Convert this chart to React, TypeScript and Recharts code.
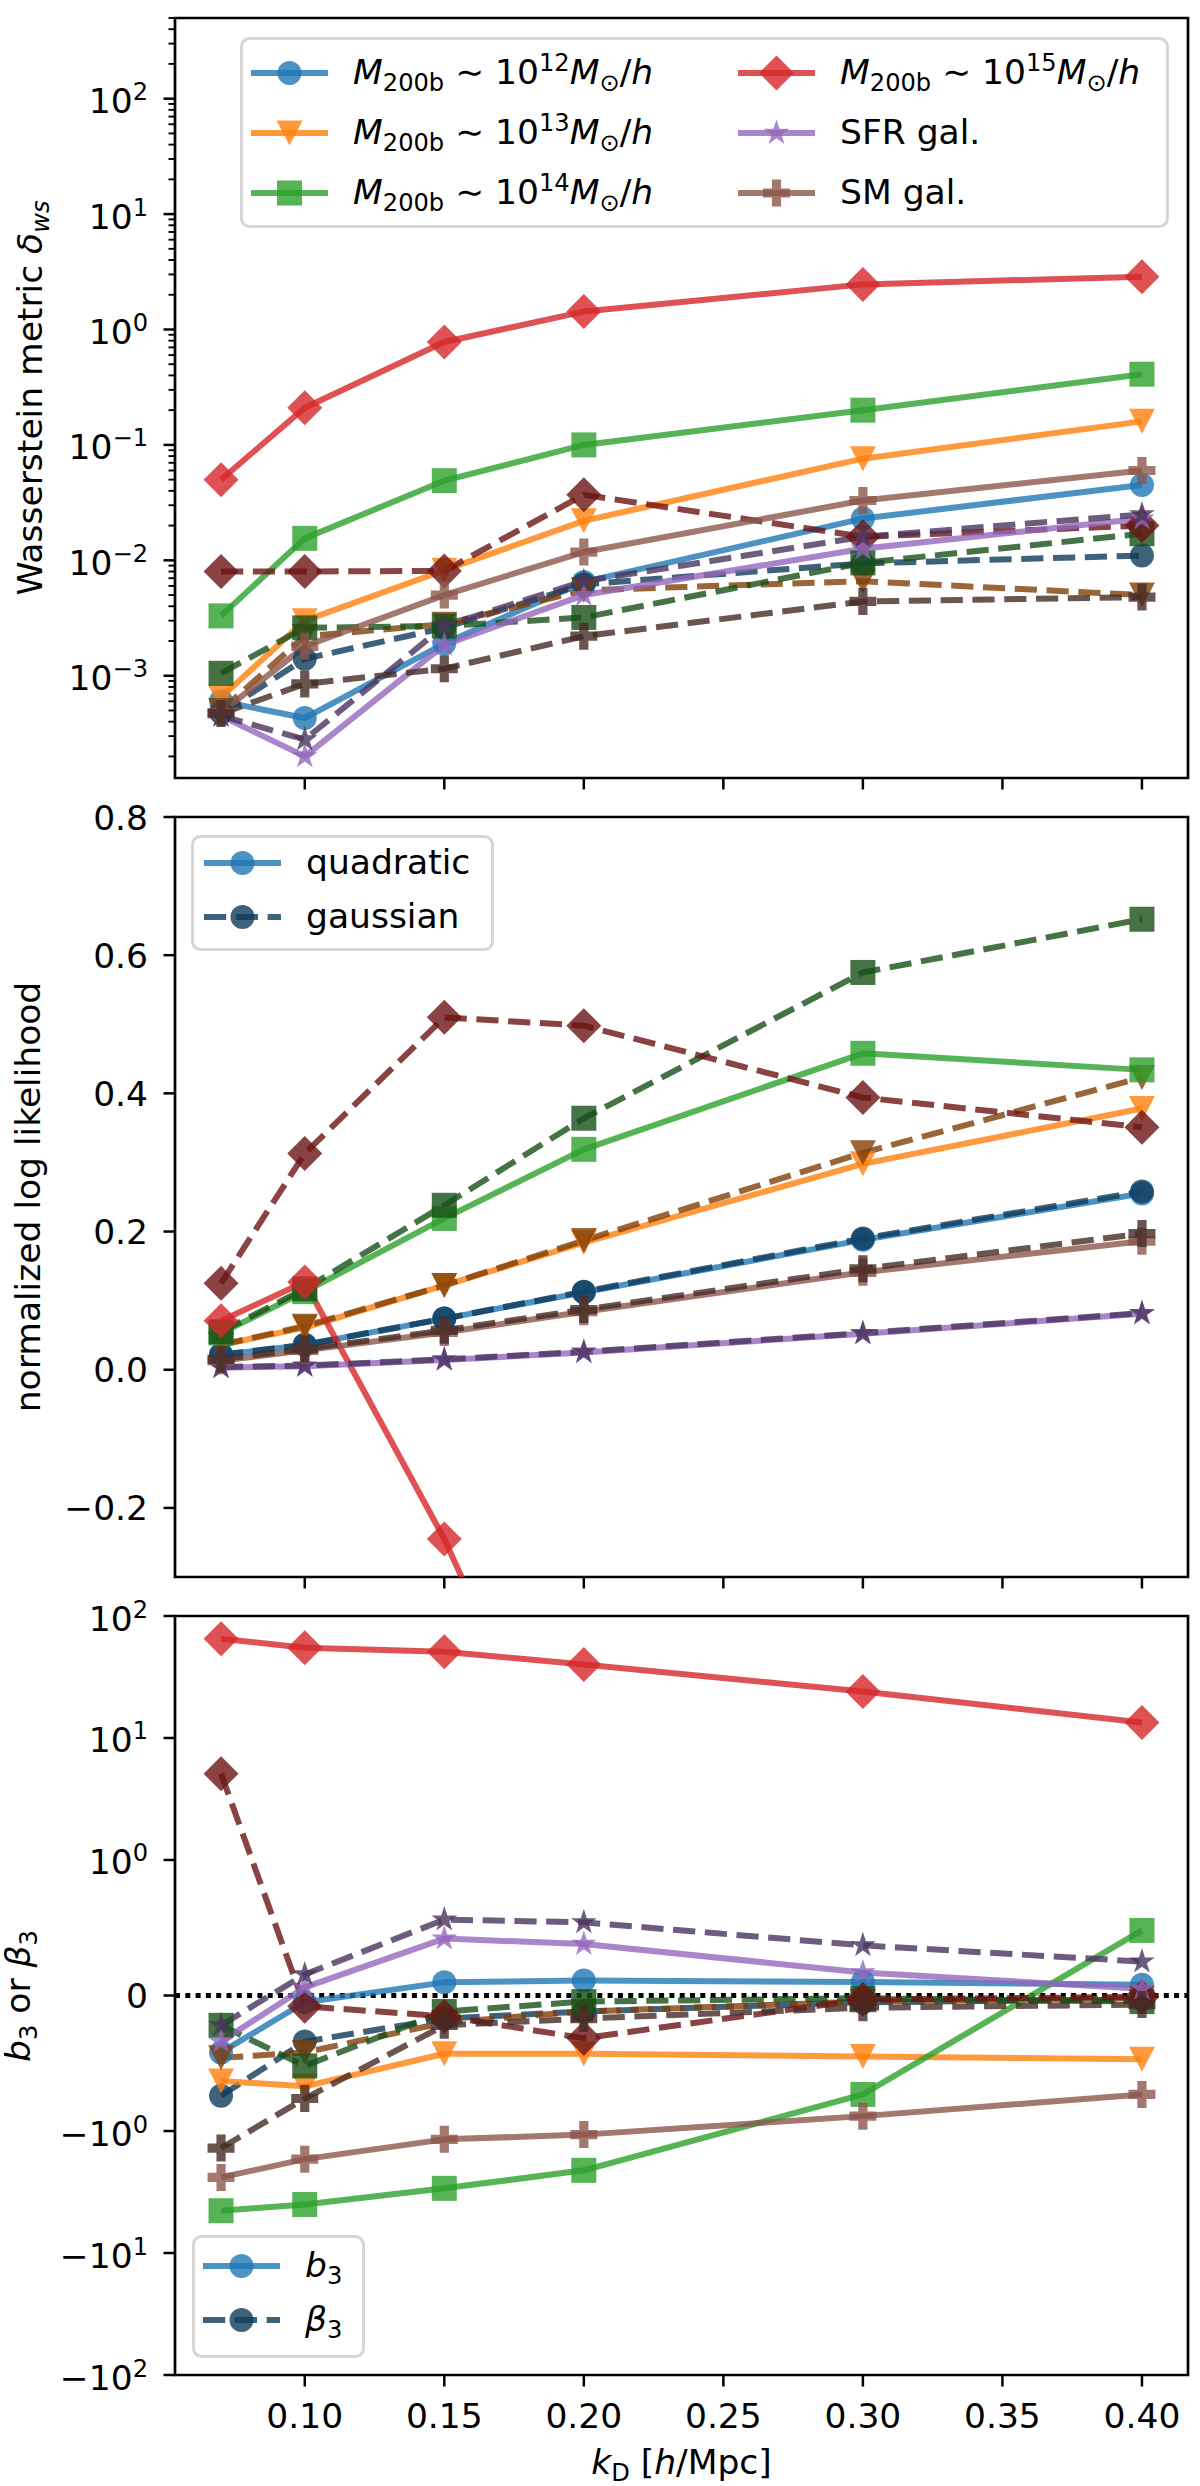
import React from 'react';
import { LineChart, Line, XAxis, YAxis, ReferenceArea, ReferenceLine, Legend } from 'recharts';

const FONT = '"DejaVu Sans", sans-serif';
const FS = 34.5;
const SUB = FS * 0.7;
const TICK = 11.5;
const MINOR = 6.5;
const LABEL_RIGHT = 148;

// k_D values shared by every panel
const kD = [0.07, 0.1, 0.15, 0.2, 0.3, 0.4];
const xTicks = [0.1, 0.15, 0.2, 0.25, 0.3, 0.35, 0.4];
const xTickLabels = ['0.10', '0.15', '0.20', '0.25', '0.30', '0.35', '0.40'];
const xDomain = [0.0535, 0.4165];

// tracers: M~1e12, 1e13, 1e14, 1e15, SFR gal., SM gal.
const tracerColors = ['#1f77b4', '#ff7f0e', '#2ca02c', '#d62728', '#9467bd', '#8c564b'];
const tracerDark = ['#0f3b5a', '#7f3f07', '#165016', '#6b1414', '#4a335e', '#462b25'];
const tracerMarkers = ['o', 'v', 's', 'D', '*', 'P'];
const massExponents = ['12', '13', '14', '15'];
const galaxyNames = ['SFR gal.', 'SM gal.'];

// panel 1: Wasserstein metric (log axis)
const wsQuadratic = [
  [6.0e-4, 4.3e-4, 1.9e-3, 6.5e-3, 0.023, 0.045],
  [6.5e-4, 3.0e-3, 8.2e-3, 0.022, 0.076, 0.16],
  [3.3e-3, 0.0155, 0.049, 0.1, 0.2, 0.41],
  [0.05, 0.21, 0.78, 1.43, 2.46, 2.87],
  [4.5e-4, 2.0e-4, 1.85e-3, 5.0e-3, 0.0126, 0.023],
  [4.8e-4, 1.8e-3, 5.0e-3, 0.0118, 0.033, 0.06],
];
const wsGaussian = [
  [4.8e-4, 1.4e-3, 2.6e-3, 6.2e-3, 9.4e-3, 0.011],
  [5.0e-4, 2.2e-3, 2.8e-3, 5.5e-3, 6.6e-3, 5.0e-3],
  [1.05e-3, 2.6e-3, 2.7e-3, 3.2e-3, 9.5e-3, 0.017],
  [8.0e-3, 8.0e-3, 8.1e-3, 0.037, 0.016, 0.02],
  [4.5e-4, 2.8e-4, 2.7e-3, 6.6e-3, 0.016, 0.025],
  [4.7e-4, 8.5e-4, 1.15e-3, 2.2e-3, 4.4e-3, 4.8e-3],
];
const wsDomain = [1.3e-4, 500];
const wsMajorExp = [-3, -2, -1, 0, 1, 2];

// panel 2: normalized log likelihood
const llQuadratic = [
  [0.021, 0.036, 0.074, 0.112, 0.188, 0.255],
  [0.036, 0.061, 0.122, 0.184, 0.298, 0.378],
  [0.053, 0.113, 0.219, 0.319, 0.458, 0.434],
  [0.071, 0.127, -0.245, -0.69, -1.3, -1.9],
  [0.003, 0.005, 0.014, 0.025, 0.052, 0.081],
  [0.013, 0.028, 0.054, 0.084, 0.141, 0.186],
];
const llGaussian = [
  [0.022, 0.036, 0.074, 0.113, 0.19, 0.258],
  [0.036, 0.063, 0.122, 0.187, 0.314, 0.423],
  [0.055, 0.117, 0.238, 0.364, 0.575, 0.652],
  [0.125, 0.313, 0.51, 0.498, 0.394, 0.351],
  [0.004, 0.006, 0.015, 0.026, 0.053, 0.082],
  [0.015, 0.03, 0.057, 0.087, 0.146, 0.197],
];
const llDomain = [-0.3, 0.8];
const llTicks = [-0.2, 0, 0.2, 0.4, 0.6, 0.8];
const llTickLabels = ['\u22120.2', '0.0', '0.2', '0.4', '0.6', '0.8'];

// panel 3: b3 / beta3 (symlog axis, linthresh 1)
const b3Quadratic = [
  [-0.42, -0.05, 0.097, 0.11, 0.1, 0.08],
  [-0.63, -0.67, -0.43, -0.43, -0.45, -0.47],
  [-4.5, -4.0, -2.95, -2.1, -0.73, 0.48],
  [65, 55, 51, 40, 24, 13.4],
  [-0.34, 0.06, 0.42, 0.38, 0.17, 0.05],
  [-2.4, -1.7, -1.17, -1.07, -0.89, -0.73],
];
const beta3Gaussian = [
  [-0.74, -0.34, -0.17, -0.118, -0.05, -0.03],
  [-0.46, -0.42, -0.2, -0.118, -0.045, -0.02],
  [-0.22, -0.52, -0.118, -0.045, -0.02, -0.045],
  [5.1, -0.08, -0.153, -0.315, -0.03, -0.01],
  [-0.22, 0.155, 0.56, 0.54, 0.37, 0.25],
  [-1.38, -0.76, -0.22, -0.17, -0.09, -0.067],
];
const b3TickValues = [-100, -10, -1, 0, 1, 10, 100];

const LINSCALE = 1 / (1 - 1 / 10);
const symlog = (v: number) =>
  Math.abs(v) <= 1 ? v * LINSCALE : Math.sign(v) * (LINSCALE + Math.log10(Math.abs(v)));

const buildRows = (quad: number[][], gauss: number[][], tf = (v: number) => v) =>
  kD.map((k, i) => {
    const row: any = { k };
    quad.forEach((s, j) => { row['q' + j] = tf(s[i]); });
    gauss.forEach((s, j) => { row['g' + j] = tf(s[i]); });
    return row;
  });

const wsRows = buildRows(wsQuadratic, wsGaussian);
const llRows = buildRows(llQuadratic, llGaussian);
const b3Rows = buildRows(b3Quadratic, beta3Gaussian, symlog);

const wsTicks: number[] = [];
for (let e = -4; e <= 2; e++) {
  for (let m = 1; m <= 9; m++) {
    const v = m * Math.pow(10, e);
    if (v >= wsDomain[0] && v <= wsDomain[1]) wsTicks.push(v);
  }
}

function Marker({ cx, cy, shape, color, opacity = 0.8 }: any) {
  if (cx == null || cy == null || !isFinite(cx) || !isFinite(cy)) return null;
  const st = { fill: color, fillOpacity: opacity };
  if (shape === 'o') return <circle cx={cx} cy={cy} r={12} {...st} />;
  if (shape === 'v')
    return <polygon points={`${cx - 13},${cy - 12.5} ${cx + 13},${cy - 12.5} ${cx},${cy + 12.5}`} {...st} />;
  if (shape === 's') return <rect x={cx - 12.5} y={cy - 12.5} width={25} height={25} {...st} />;
  if (shape === 'D')
    return <polygon points={`${cx},${cy - 17.5} ${cx + 17.5},${cy} ${cx},${cy + 17.5} ${cx - 17.5},${cy}`} {...st} />;
  if (shape === '*') {
    const R = 13.5;
    const r = R * 0.382;
    const pts = [];
    for (let i = 0; i < 10; i++) {
      const a = -Math.PI / 2 + (i * Math.PI) / 5;
      const rr = i % 2 === 0 ? R : r;
      pts.push(`${cx + rr * Math.cos(a)},${cy + rr * Math.sin(a)}`);
    }
    return <polygon points={pts.join(' ')} {...st} />;
  }
  const a = 13.5;
  const w = 4.6;
  const p = [
    [-w, -a], [w, -a], [w, -w], [a, -w], [a, w], [w, w],
    [w, a], [-w, a], [-w, w], [-a, w], [-a, -w], [-w, -w],
  ];
  return <polygon points={p.map(([x, y]) => `${cx + x},${cy + y}`).join(' ')} {...st} />;
}

const seriesLines = () =>
  tracerColors.flatMap((c, j) => [
    <Line
      key={`q${j}`}
      dataKey={`q${j}`}
      type="linear"
      stroke={c}
      strokeOpacity={0.8}
      strokeWidth={6}
      strokeLinejoin="round"
      isAnimationActive={false}
      activeDot={false}
      dot={(p: any) => <Marker key={`q${j}-${p.index}`} cx={p.cx} cy={p.cy} shape={tracerMarkers[j]} color={c} />}
    />,
    <Line
      key={`g${j}`}
      dataKey={`g${j}`}
      type="linear"
      stroke={tracerDark[j]}
      strokeOpacity={0.8}
      strokeWidth={6}
      strokeDasharray="22.2 9.6"
      isAnimationActive={false}
      activeDot={false}
      dot={(p: any) => (
        <Marker key={`g${j}-${p.index}`} cx={p.cx} cy={p.cy} shape={tracerMarkers[j]} color={tracerDark[j]} />
      )}
    />,
  ]);

const tickLine = (x1: number, y1: number, x2: number, y2: number, w = 2.5) => (
  <line x1={x1} y1={y1} x2={x2} y2={y2} stroke="#000" strokeWidth={w} />
);

function PowText({ x, y, exp, neg }: any) {
  return (
    <text x={x} y={y} textAnchor="end" fontSize={FS} fontFamily={FONT} fill="#000">
      {neg ? '\u221210' : '10'}
      <tspan fontSize={SUB} dy={-13}>{exp}</tspan>
    </text>
  );
}

const xTick = (showLabel: boolean) => (p: any) => {
  const idx = xTicks.findIndex((t) => Math.abs(t - p.payload.value) < 1e-9);
  return (
    <g key={`xt-${idx}`}>
      {tickLine(p.x, p.y, p.x, p.y + TICK)}
      {showLabel && (
        <text x={p.x} y={p.y + 53} textAnchor="middle" fontSize={FS} fontFamily={FONT} fill="#000">
          {xTickLabels[idx]}
        </text>
      )}
    </g>
  );
};

const wsTick = (p: any) => {
  const v = p.payload.value;
  const e = Math.log10(v);
  const major = Math.abs(e - Math.round(e)) < 1e-6 && wsMajorExp.includes(Math.round(e));
  const ex = Math.round(e);
  return (
    <g>
      {major ? tickLine(p.x, p.y, p.x - TICK, p.y) : tickLine(p.x, p.y, p.x - MINOR, p.y, 1.9)}
      {major && <PowText x={LABEL_RIGHT} y={p.y + 14.5} exp={ex < 0 ? `\u2212${-ex}` : `${ex}`} />}
    </g>
  );
};

const llTick = (p: any) => {
  const idx = llTicks.findIndex((t) => Math.abs(t - p.payload.value) < 1e-9);
  return (
    <g>
      {tickLine(p.x, p.y, p.x - TICK, p.y)}
      <text x={LABEL_RIGHT} y={p.y + 12.5} textAnchor="end" fontSize={FS} fontFamily={FONT} fill="#000">
        {llTickLabels[idx]}
      </text>
    </g>
  );
};

const b3Tick = (p: any) => {
  const idx = b3TickValues.findIndex((t) => Math.abs(symlog(t) - p.payload.value) < 1e-6);
  const v = b3TickValues[idx];
  return (
    <g>
      {tickLine(p.x, p.y, p.x - TICK, p.y)}
      {v === 0 ? (
        <text x={LABEL_RIGHT} y={p.y + 12.5} textAnchor="end" fontSize={FS} fontFamily={FONT} fill="#000">0</text>
      ) : (
        <PowText x={LABEL_RIGHT} y={p.y + 14.5} neg={v < 0} exp={`${Math.round(Math.log10(Math.abs(v)))}`} />
      )}
    </g>
  );
};

function MassLabel({ exp }: { exp: string }) {
  return (
    <>
      <tspan fontStyle="italic">M</tspan>
      <tspan fontSize={SUB} dy={7}>200b</tspan>
      <tspan dy={-7}>{' \u223C 10'}</tspan>
      <tspan fontSize={SUB} dy={-13}>{exp}</tspan>
      <tspan fontStyle="italic" dy={13}>M</tspan>
      <tspan fontSize={SUB} dy={7}>{'\u2299'}</tspan>
      <tspan dy={-7}>/</tspan>
      <tspan fontStyle="italic">h</tspan>
    </>
  );
}

type Entry = { x: number; y: number; color: string; dashed: boolean; shape: string; label: React.ReactNode };

function LegendBox({ width, height, entries }: { width: number; height: number; entries: Entry[] }) {
  return (
    <svg width={width} height={height} style={{ display: 'block', overflow: 'visible' }}>
      <rect x={1.5} y={1.5} width={width - 3} height={height - 3} rx={8} fill="#fff" fillOpacity={0.8} stroke="#d6d6d6" strokeWidth={3} />
      {entries.map((e, i) => (
        <g key={i}>
          <line
            x1={e.x}
            x2={e.x + 77}
            y1={e.y}
            y2={e.y}
            stroke={e.color}
            strokeOpacity={0.8}
            strokeWidth={6}
            strokeDasharray={e.dashed ? '22.2 9.6' : undefined}
          />
          <Marker cx={e.x + 38.5} cy={e.y} shape={e.shape} color={e.color} />
          <text x={e.x + 102} y={e.y + 11} fontSize={FS} fontFamily={FONT} fill="#000" style={{ whiteSpace: 'pre' }}>
            {e.label}
          </text>
        </g>
      ))}
    </svg>
  );
}

const tracerEntries: Entry[] = tracerColors.map((c, j) => ({
  x: j < 3 ? 11 : 498,
  y: 36 + (j % 3) * 60,
  color: c,
  dashed: false,
  shape: tracerMarkers[j],
  label: j < 4 ? <MassLabel exp={massExponents[j]} /> : galaxyNames[j - 4],
}));

const methodEntries: Entry[] = [
  { x: 13, y: 28, color: tracerColors[0], dashed: false, shape: 'o', label: 'quadratic' },
  { x: 13, y: 82, color: tracerDark[0], dashed: true, shape: 'o', label: 'gaussian' },
];

const biasEntries: Entry[] = [
  {
    x: 11, y: 31, color: tracerColors[0], dashed: false, shape: 'o',
    label: (<><tspan fontStyle="italic">b</tspan><tspan fontSize={SUB} dy={7}>3</tspan></>),
  },
  {
    x: 11, y: 85, color: tracerDark[0], dashed: true, shape: 'o',
    label: (<><tspan fontStyle="italic">{'\u03B2'}</tspan><tspan fontSize={SUB} dy={7}>3</tspan></>),
  },
];

// axis titles; px/py are chart-svg coordinates (recharts overrides x/y on label content)
function YTitle({ px, py, parts }: any) {
  return (
    <text transform={`translate(${px},${py}) rotate(-90)`} textAnchor="middle" fontSize={FS} fontFamily={FONT} fill="#000" style={{ whiteSpace: 'pre' }}>
      {parts}
    </text>
  );
}

function XTitle({ px, py }: any) {
  return (
    <text x={px} y={py} textAnchor="middle" fontSize={FS} fontFamily={FONT} fill="#000" style={{ whiteSpace: 'pre' }}>
      <tspan fontStyle="italic">k</tspan>
      <tspan fontSize={SUB} dy={7}>D</tspan>
      <tspan dy={-7}>{' ['}</tspan>
      <tspan fontStyle="italic">h</tspan>
      <tspan>/Mpc]</tspan>
    </text>
  );
}

const wsTitle = (
  <>
    {'Wasserstein metric '}
    <tspan fontStyle="italic">{'\u03B4'}</tspan>
    <tspan fontSize={SUB} fontStyle="italic" dy={7}>ws</tspan>
  </>
);
const b3Title = (
  <>
    <tspan fontStyle="italic">b</tspan>
    <tspan fontSize={SUB} dy={7}>3</tspan>
    <tspan dy={-7}>{' or '}</tspan>
    <tspan fontStyle="italic">{'\u03B2'}</tspan>
    <tspan fontSize={SUB} dy={7}>3</tspan>
  </>
);

const PLOT_H = 760;
const frame = (x1: number, x2: number, y1: number, y2: number) => (
  <ReferenceArea x1={x1} x2={x2} y1={y1} y2={y2} fill="none" stroke="#000" strokeWidth={2.7} ifOverflow="visible" />
);

export default function App() {
  return (
    <div style={{ position: 'absolute', left: 0, top: 0, width: 1200, height: 2486, background: '#fff' }}>
      {/* panel 1 */}
      <div style={{ position: 'absolute', left: 0, top: 0 }}>
        <LineChart width={1200} height={798} data={wsRows} margin={{ top: 18, right: 12, bottom: 0, left: 0 }}>
          <XAxis dataKey="k" type="number" domain={xDomain} ticks={xTicks} interval={0} allowDataOverflow
            height={20} tickSize={0} tickMargin={0} axisLine={false} tickLine={false} tick={xTick(false)} />
          <YAxis type="number" scale="log" domain={wsDomain} ticks={wsTicks} interval={0} allowDataOverflow
            width={175} tickSize={0} tickMargin={0} axisLine={false} tickLine={false} tick={wsTick}
            label={<YTitle px={42} py={18 + PLOT_H / 2} parts={wsTitle} />} />
          {seriesLines()}
          {frame(xDomain[0], xDomain[1], wsDomain[0], wsDomain[1])}
          <Legend layout="horizontal" align="center" verticalAlign="middle"
            wrapperStyle={{ left: 240, top: 37, width: 929, height: 191 }}
            content={() => <LegendBox width={929} height={191} entries={tracerEntries} />} />
        </LineChart>
      </div>

      {/* panel 2 */}
      <div style={{ position: 'absolute', left: 0, top: 798 }}>
        <LineChart width={1200} height={799} data={llRows} margin={{ top: 19, right: 12, bottom: 0, left: 0 }}>
          <XAxis dataKey="k" type="number" domain={xDomain} ticks={xTicks} interval={0} allowDataOverflow
            height={20} tickSize={0} tickMargin={0} axisLine={false} tickLine={false} tick={xTick(false)} />
          <YAxis type="number" domain={llDomain} ticks={llTicks} interval={0} allowDataOverflow
            width={175} tickSize={0} tickMargin={0} axisLine={false} tickLine={false} tick={llTick}
            label={<YTitle px={40} py={19 + PLOT_H / 2} parts="normalized log likelihood" />} />
          {seriesLines()}
          {frame(xDomain[0], xDomain[1], llDomain[0], llDomain[1])}
          <Legend layout="horizontal" align="center" verticalAlign="middle"
            wrapperStyle={{ left: 191, top: 37, width: 303, height: 116 }}
            content={() => <LegendBox width={303} height={116} entries={methodEntries} />} />
        </LineChart>
      </div>

      {/* panel 3 */}
      <div style={{ position: 'absolute', left: 0, top: 1597 }}>
        <LineChart width={1200} height={889} data={b3Rows} margin={{ top: 19, right: 12, bottom: 0, left: 0 }}>
          <XAxis dataKey="k" type="number" domain={xDomain} ticks={xTicks} interval={0} allowDataOverflow
            height={111} tickSize={0} tickMargin={0} axisLine={false} tickLine={false} tick={xTick(true)}
            label={<XTitle px={681.5} py={877} />} />
          <YAxis type="number" domain={[symlog(-100), symlog(100)]} ticks={b3TickValues.map(symlog)} interval={0} allowDataOverflow
            width={175} tickSize={0} tickMargin={0} axisLine={false} tickLine={false} tick={b3Tick}
            label={<YTitle px={30} py={19 + PLOT_H / 2} parts={b3Title} />} />
          <ReferenceLine y={0} stroke="#000" strokeWidth={5} strokeDasharray="5 5.3" />
          {seriesLines()}
          {frame(xDomain[0], xDomain[1], symlog(-100), symlog(100))}
          <Legend layout="horizontal" align="center" verticalAlign="middle"
            wrapperStyle={{ left: 192, top: 638, width: 173, height: 123 }}
            content={() => <LegendBox width={173} height={123} entries={biasEntries} />} />
        </LineChart>
      </div>
    </div>
  );
}
